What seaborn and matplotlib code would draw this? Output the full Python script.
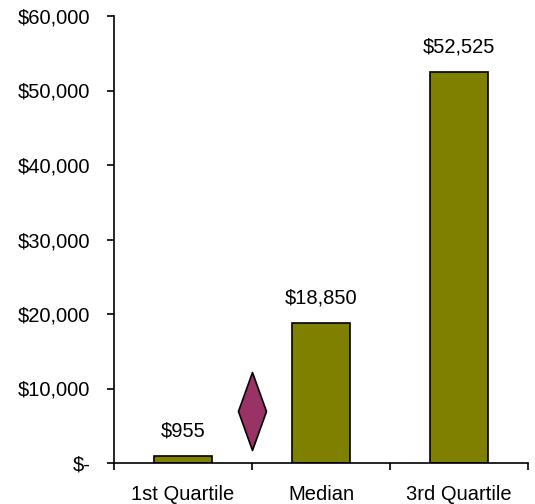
import matplotlib
matplotlib.use("Agg")
import matplotlib.pyplot as plt
import seaborn as sns
import pandas as pd
from matplotlib.path import Path
from matplotlib.ticker import FuncFormatter, FixedLocator

categories = ["1st Quartile", "Median", "3rd Quartile"]
values = [955, 18850, 52525]
value_labels = ["$955", "$18,850", "$52,525"]
mean_position = [0.5]
mean_value = [7000]

sns.set_theme(style="white")
plt.rcParams["font.family"] = ["Liberation Sans", "DejaVu Sans"]

fig = plt.figure(figsize=(5.35, 5.04), dpi=100)
ax = fig.add_axes([114/535, 41/504, 414/535, 447/504])

df = pd.DataFrame({"cat": categories, "val": values})
sns.barplot(data=df, x="cat", y="val", ax=ax, color="#808000", width=0.42,
            edgecolor="black", linewidth=1.2, saturation=1)

diamond = Path([(0, 1), (0.36, 0), (0, -1), (-0.36, 0), (0, 1)],
               [Path.MOVETO, Path.LINETO, Path.LINETO, Path.LINETO, Path.CLOSEPOLY])
mdf = pd.DataFrame({"x": mean_position, "y": mean_value})
sns.scatterplot(data=mdf, x="x", y="y", ax=ax, marker=diamond, s=3150,
                color="#993366", edgecolor="black", linewidth=1.2, zorder=5)

for i, (v, lab) in enumerate(zip(values, value_labels)):
    ax.annotate(lab, (i, v), xytext=(0, 18), textcoords="offset points",
                ha="center", va="center", fontsize=14.5, color="black")

ax.set_xlim(-0.5, 2.5)
ax.set_ylim(0, 60000)
ax.yaxis.set_major_locator(FixedLocator(range(0, 60001, 10000)))
ax.yaxis.set_major_formatter(FuncFormatter(lambda v, p: "$-" if v == 0 else f"${v:,.0f}"))
ax.xaxis.set_minor_locator(FixedLocator([-0.5, 0.5, 1.5, 2.5]))
ax.tick_params(axis="x", which="major", length=0, pad=16, labelsize=14.5, colors="black")
ax.tick_params(axis="x", which="minor", length=5, width=1.2, direction="out", bottom=True, color="black")
ax.tick_params(axis="y", which="major", length=5, width=1.2, direction="out", left=True,
               labelsize=14.5, pad=12, colors="black")
ax.set_xlabel("")
ax.set_ylabel("")
for s in ["top", "right"]:
    ax.spines[s].set_visible(False)
for s in ["left", "bottom"]:
    ax.spines[s].set_color("black")
    ax.spines[s].set_linewidth(1.2)

fig.savefig("out.png", dpi=100)
